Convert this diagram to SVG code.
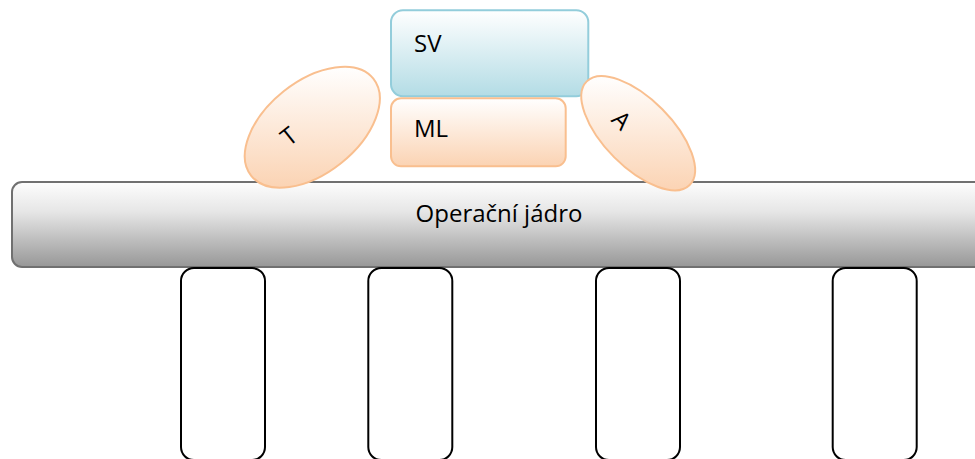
<svg xmlns="http://www.w3.org/2000/svg" width="975" height="459" viewBox="0 0 975 459">
  <style>
    .lbl { font-family: "Open Sans", "Liberation Sans", sans-serif; font-size: 24px; fill: #000; }
    .slot { fill: #fff; stroke: #000; stroke-width: 2; }
    .orange { stroke: #f9bf8f; stroke-width: 2; }
  </style>
  <defs>
    <linearGradient id="gBar" x1="0" y1="0" x2="0" y2="1">
      <stop offset="0" stop-color="#fdfdfd"/>
      <stop offset="0.35" stop-color="#e6e6e6"/>
      <stop offset="1" stop-color="#979797"/>
    </linearGradient>
    <linearGradient id="gBlue" x1="0" y1="0" x2="0" y2="1">
      <stop offset="0" stop-color="#ffffff"/>
      <stop offset="1" stop-color="#b3dce5"/>
    </linearGradient>
    <linearGradient id="gOrange" x1="0" y1="0" x2="0" y2="1">
      <stop offset="0" stop-color="#ffffff"/>
      <stop offset="1" stop-color="#fbd3b3"/>
    </linearGradient>
    <linearGradient id="gT" gradientUnits="userSpaceOnUse" x1="38" y1="-48" x2="-38" y2="48">
      <stop offset="0" stop-color="#ffffff"/>
      <stop offset="1" stop-color="#fbd3b3"/>
    </linearGradient>
    <linearGradient id="gA" gradientUnits="userSpaceOnUse" x1="-41" y1="-41" x2="41" y2="41">
      <stop offset="0" stop-color="#ffffff"/>
      <stop offset="1" stop-color="#fbd3b3"/>
    </linearGradient>
  </defs>

  <g id="core">
    <rect x="12" y="182" width="976" height="85" rx="10" fill="url(#gBar)" stroke="#707070" stroke-width="2"/>
    <text class="lbl" x="499" y="222" text-anchor="middle">Operační jádro</text>
  </g>

  <g id="slot1"><rect class="slot" x="181" y="268" width="84" height="192" rx="13"/></g>
  <g id="slot2"><rect class="slot" x="368.3" y="268" width="84" height="192" rx="13"/></g>
  <g id="slot3"><rect class="slot" x="596" y="268" width="84" height="192" rx="13"/></g>
  <g id="slot4"><rect class="slot" x="832.7" y="268" width="84" height="192" rx="13"/></g>

  <g id="SV">
    <rect x="391" y="10.3" width="197.3" height="86" rx="12" fill="url(#gBlue)" stroke="#93cddb" stroke-width="2"/>
    <text class="lbl" x="414" y="52">SV</text>
  </g>

  <g id="ML">
    <rect class="orange" x="391" y="98.3" width="174.7" height="68" rx="10" fill="url(#gOrange)"/>
    <text class="lbl" x="414" y="137">ML</text>
  </g>

  <g id="T" transform="translate(312.3 127.2) rotate(-38.5)">
    <ellipse class="orange" cx="0" cy="0" rx="78" ry="46" fill="url(#gT)"/>
    <text class="lbl" x="-24" y="1" text-anchor="middle">T</text>
  </g>

  <g id="A" transform="translate(638.2 133.2) rotate(45.2)">
    <ellipse class="orange" cx="0" cy="0" rx="73" ry="34" fill="url(#gA)"/>
    <text class="lbl" x="-21" y="11" text-anchor="middle">A</text>
  </g>

  <g id="connectors"/>
</svg>
